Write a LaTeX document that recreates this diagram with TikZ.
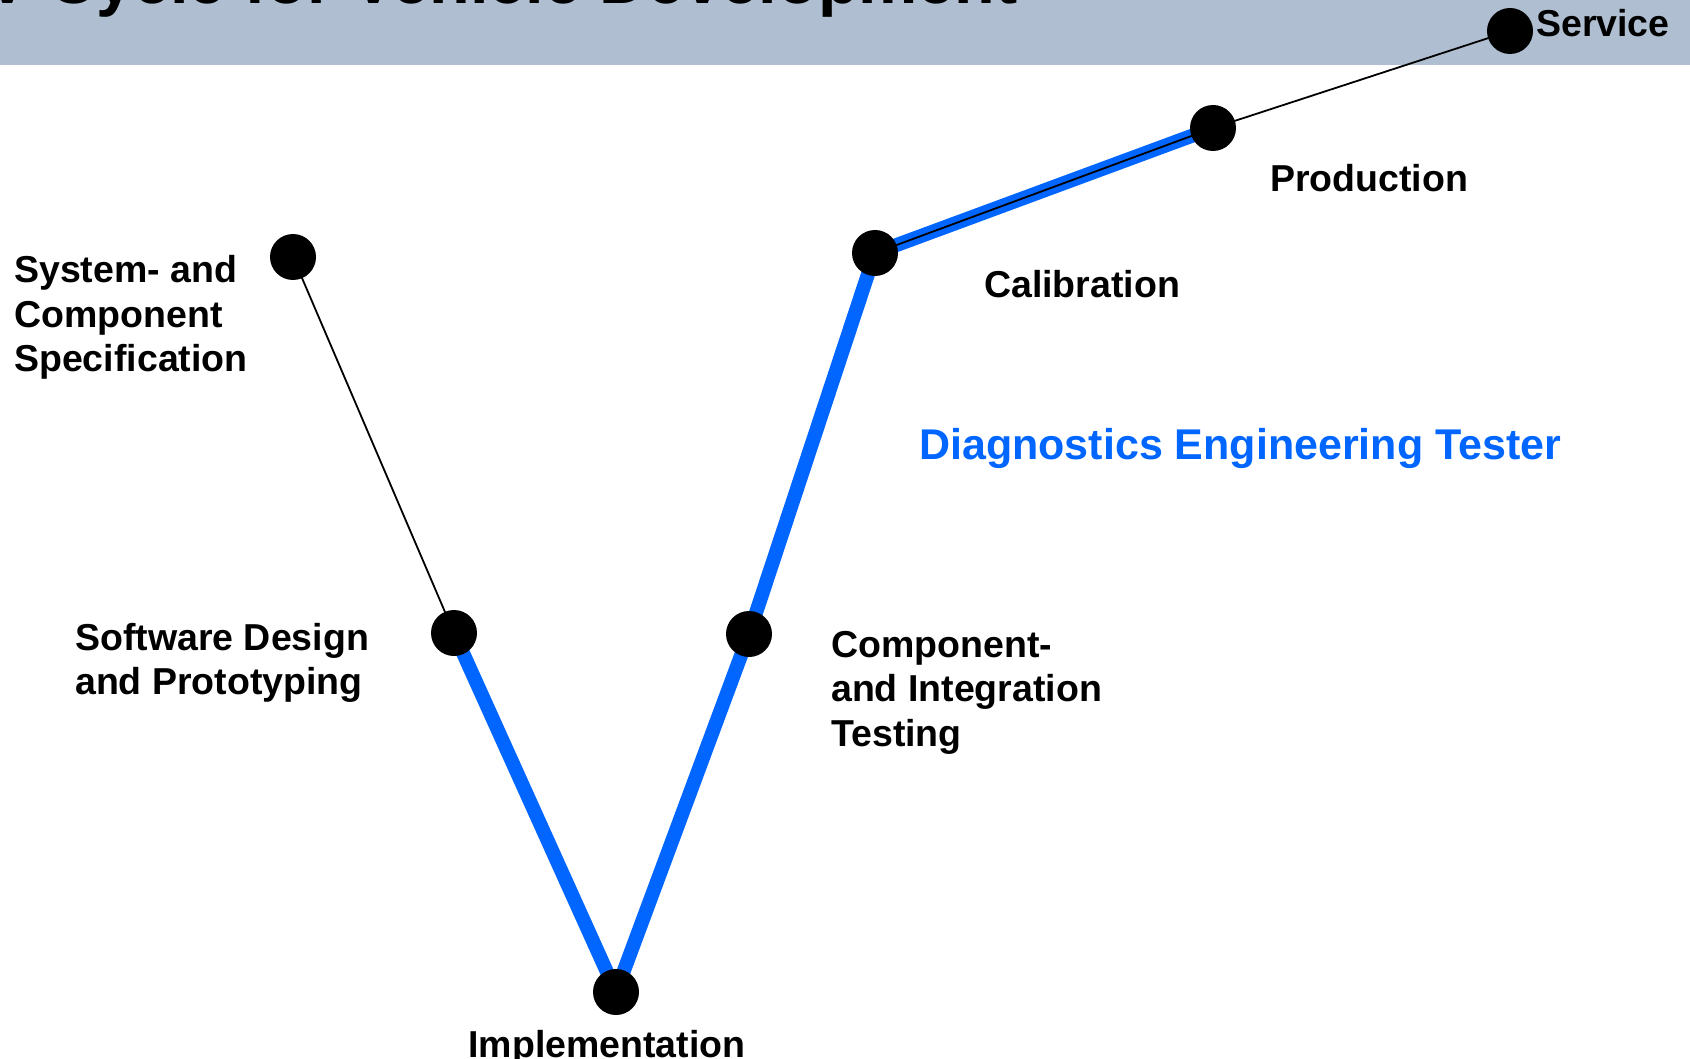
\documentclass[tikz,border=0pt]{standalone}
\usepackage{fontspec}
\setmainfont{Liberation Sans}
\definecolor{band}{RGB}{175,191,209}
\definecolor{vblue}{RGB}{0,102,255}
\newcommand{\lines}[1]{\vtop{\baselineskip=44.5pt\lineskiplimit=-100pt\relax #1}}
\begin{document}
\begin{tikzpicture}[x=1pt,y=-1pt,
  dot/.style={circle,fill=black,minimum size=46pt,inner sep=0pt},
  lbl/.style={inner sep=0pt,anchor=base west,font=\bfseries\fontsize{37.5}{44.5}\selectfont},
  thickline/.style={vblue,line width=14pt,line cap=round},
  thinline/.style={black,line width=1.8pt}]
\useasboundingbox (0,0) rectangle (1690,1059);
\clip (0,0) rectangle (1690,1059);
\fill[band] (0,0) rectangle (1690,65);
\node[lbl,font=\bfseries\fontsize{66.6}{79}\selectfont] (title) at (-15,4) {V-Cycle for Vehicle Development};
% dots positions
\coordinate (pspec) at (293,257);
\coordinate (psw) at (454,633);
\coordinate (pimpl) at (616,992);
\coordinate (pcomp) at (749,634);
\coordinate (pcal) at (875,253);
\coordinate (pprod) at (1213,128);
\coordinate (pserv) at (1510,31);
\draw[thickline] (psw) -- (pimpl) -- (pcomp) -- (pcal) -- (pprod);
\draw[thinline] (pspec) -- (psw);
\draw[thinline] (pcal) -- (pprod) -- (pserv);
\node[dot] (spec) at (pspec) {};
\node[dot] (sw) at (psw) {};
\node[dot] (impl) at (pimpl) {};
\node[dot] (comp) at (pcomp) {};
\node[dot] (cal) at (pcal) {};
\node[dot] (prod) at (pprod) {};
\node[dot] (serv) at (pserv) {};
% labels
\node[lbl] (lspec) at (14,283) {\lines{\hbox{System- and}\hbox{Component}\hbox{Specification}}};
\node[lbl] (lsw) at (75,650) {\lines{\hbox{Software Design}\hbox{and Prototyping}}};
\node[lbl,anchor=base] (limpl) at (607,1057) {Implementation};
\node[lbl] (lcomp) at (831,657) {\lines{\hbox{Component-}\hbox{and Integration}\hbox{Testing}}};
\node[lbl] (lcal) at (984,298) {Calibration};
\node[lbl] (lprod) at (1270,192) {Production};
\node[lbl] (lserv) at (1536,37) {Service};
\node[lbl,text=vblue,font=\bfseries\fontsize{43}{50}\selectfont] (ldiag) at (919,459) {Diagnostics Engineering Tester};
\end{tikzpicture}
\end{document}
